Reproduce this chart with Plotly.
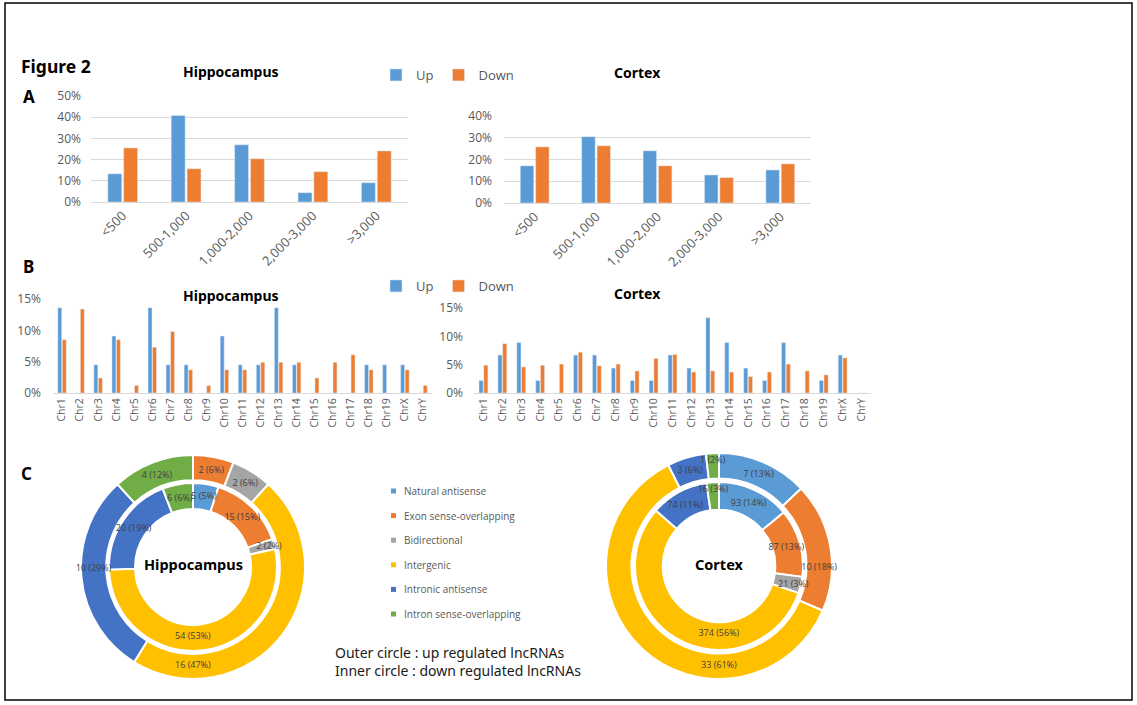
import plotly.graph_objects as go

W, H = 1137, 705

# ---------------- data ----------------
length_bins = ["<500", "500-1,000", "1,000-2,000", "2,000-3,000", ">3,000"]
hip_len_up = [13.3, 40.8, 27.0, 4.4, 9.1]
hip_len_down = [25.5, 15.7, 20.4, 14.3, 24.1]
ctx_len_up = [17.1, 30.5, 24.0, 12.9, 15.2]
ctx_len_down = [25.8, 26.3, 17.1, 11.7, 18.0]

chroms = ["Chr1", "Chr2", "Chr3", "Chr4", "Chr5", "Chr6", "Chr7", "Chr8", "Chr9", "Chr10",
          "Chr11", "Chr12", "Chr13", "Chr14", "Chr15", "Chr16", "Chr17", "Chr18", "Chr19",
          "ChrX", "ChrY"]
hip_chr_up = [13.6, 0, 4.5, 9.1, 0, 13.6, 4.5, 4.5, 0, 9.1, 4.5, 4.5, 13.6, 4.5, 0, 0, 0, 4.5, 4.5, 4.5, 0]
hip_chr_down = [8.5, 13.4, 2.4, 8.5, 1.2, 7.3, 9.8, 3.7, 1.2, 3.7, 3.7, 4.9, 4.9, 4.9, 2.4, 4.9, 6.1, 3.7, 0, 3.7, 1.2]
ctx_chr_up = [2.2, 6.7, 8.9, 2.2, 0, 6.7, 6.7, 4.4, 2.2, 2.2, 6.7, 4.4, 13.3, 8.9, 4.4, 2.2, 8.9, 0, 2.2, 6.7, 0]
ctx_chr_down = [4.9, 8.7, 4.6, 4.9, 5.1, 7.2, 4.8, 5.1, 3.9, 6.1, 6.8, 3.7, 3.9, 3.7, 2.9, 3.7, 5.1, 3.9, 3.2, 6.2, 0]

lnc_types = ["Natural antisense", "Exon sense-overlapping", "Bidirectional",
             "Intergenic", "Intronic antisense", "Intron sense-overlapping"]
hip_up_counts = [0, 2, 2, 16, 10, 4]
hip_up_pct = ["", "6%", "6%", "47%", "29%", "12%"]
hip_down_counts = [5, 15, 2, 54, 20, 6]
hip_down_pct = ["5%", "15%", "2%", "53%", "19%", "6%"]
ctx_up_counts = [7, 10, 0, 33, 3, 1]
ctx_up_pct = ["13%", "18%", "", "61%", "6%", "2%"]
ctx_down_counts = [93, 87, 21, 374, 74, 16]
ctx_down_pct = ["14%", "13%", "3%", "56%", "11%", "3%"]

# ---------------- styles ----------------
UP = "#5B9BD5"
DOWN = "#ED7D31"
type_colors = ["#5B9BD5", "#ED7D31", "#A5A5A5", "#FFC000", "#4472C4", "#70AD47"]
GRAY = "#595959"
GRID = "#D9D9D9"
FONT = "Open Sans"
BOLD = "Noto Sans"


def px_x(a, b):
    return [a / W, b / W]


def px_y(top, bottom):
    return [1 - bottom / H, 1 - top / H]


fig = go.Figure()

# ---- Panel A bars ----
fig.add_trace(go.Bar(x=length_bins, y=hip_len_up, name="Up", marker_color=UP,
                     xaxis="x", yaxis="y", legend="legend"))
fig.add_trace(go.Bar(x=length_bins, y=hip_len_down, name="Down", marker_color=DOWN,
                     xaxis="x", yaxis="y", legend="legend"))
fig.add_trace(go.Bar(x=length_bins, y=ctx_len_up, name="Up", marker_color=UP,
                     xaxis="x2", yaxis="y2", showlegend=False))
fig.add_trace(go.Bar(x=length_bins, y=ctx_len_down, name="Down", marker_color=DOWN,
                     xaxis="x2", yaxis="y2", showlegend=False))

# ---- Panel B bars ----
fig.add_trace(go.Bar(x=chroms, y=hip_chr_up, name="Up", marker_color=UP,
                     xaxis="x3", yaxis="y3", legend="legend2"))
fig.add_trace(go.Bar(x=chroms, y=hip_chr_down, name="Down", marker_color=DOWN,
                     xaxis="x3", yaxis="y3", legend="legend2"))
fig.add_trace(go.Bar(x=chroms, y=ctx_chr_up, name="Up", marker_color=UP,
                     xaxis="x4", yaxis="y4", showlegend=False))
fig.add_trace(go.Bar(x=chroms, y=ctx_chr_down, name="Down", marker_color=DOWN,
                     xaxis="x4", yaxis="y4", showlegend=False))


# ---- Panel C donuts ----
def donut(counts, pcts, cx, cy, r, hole, labels_only=False):
    text = [f"{c} ({p})" if c else "" for c, p in zip(counts, pcts)]
    common = dict(values=counts, labels=lnc_types, sort=False, direction="clockwise",
                  rotation=0, hole=hole,
                  domain=dict(x=px_x(cx - r, cx + r), y=px_y(cy - r, cy + r)),
                  showlegend=False)
    if labels_only:
        return go.Pie(**common,
                      marker=dict(colors=["rgba(0,0,0,0)"] * len(counts), line=dict(width=0)),
                      text=text, textinfo="text", textposition="inside",
                      insidetextorientation="horizontal",
                      textfont=dict(size=9, color="#404040", family=FONT),
                      hoverinfo="skip")
    return go.Pie(**common,
                  marker=dict(colors=type_colors, line=dict(color="white", width=2)),
                  textinfo="none", hoverinfo="label+value+percent")


HCX, HCY = 193, 567
CCX, CCY = 719, 566
rings = [
    (hip_up_counts, hip_up_pct, HCX, HCY, 112, 0.775),
    (hip_down_counts, hip_down_pct, HCX, HCY, 84, 0.69),
    (ctx_up_counts, ctx_up_pct, CCX, CCY, 113, 0.775),
    (ctx_down_counts, ctx_down_pct, CCX, CCY, 84, 0.67),
]
for rg in rings:
    fig.add_trace(donut(*rg))
for rg in rings:
    fig.add_trace(donut(*rg, labels_only=True))

tickfont = dict(family=FONT, size=12, color=GRAY)
xA = dict(type="category", tickangle=-45, tickfont=dict(family=FONT, size=13, color=GRAY),
          showline=True, linecolor=GRID, linewidth=1, showgrid=False, ticks="",
          fixedrange=True, automargin=False)
xB = dict(type="category", tickangle=-90, tickfont=dict(family=FONT, size=10.5, color=GRAY),
          showline=True, linecolor=GRID, linewidth=1, showgrid=False, ticks="",
          fixedrange=True, automargin=False)
yC = dict(zeroline=False, tickfont=tickfont, ticksuffix="%", automargin=False, fixedrange=True)

fig.update_layout(
    width=W, height=H, margin=dict(l=0, r=0, t=0, b=0, pad=0, autoexpand=False),
    paper_bgcolor="white", plot_bgcolor="white",
    barmode="group", bargap=0.5, bargroupgap=0.12,
    uniformtext=dict(minsize=9, mode="show"),
    xaxis=dict(xA, domain=px_x(91, 408), anchor="y",
               tickvals=length_bins, ticktext=[b.replace("<", "&lt;") for b in length_bins]),
    yaxis=dict(yC, domain=px_y(96, 202), anchor="x", range=[0, 50], dtick=10,
               showgrid=True, gridcolor=GRID, ticklabelstandoff=9),
    xaxis2=dict(xA, domain=px_x(504, 811), anchor="y2",
                tickvals=length_bins, ticktext=[b.replace("<", "&lt;") for b in length_bins]),
    yaxis2=dict(yC, domain=px_y(116, 203), anchor="x2", range=[0, 40], dtick=10,
                showgrid=True, gridcolor=GRID, ticklabelstandoff=11),
    xaxis3=dict(xB, domain=px_x(53, 432), anchor="y3"),
    yaxis3=dict(yC, domain=px_y(299, 393), anchor="x3", range=[0, 15], dtick=5,
                showgrid=False, ticklabelstandoff=11),
    xaxis4=dict(xB, domain=px_x(474, 871), anchor="y4"),
    yaxis4=dict(yC, domain=px_y(308, 393), anchor="x4", range=[0, 15], dtick=5,
                showgrid=False, ticklabelstandoff=10),
    legend=dict(orientation="h", x=376 / W, y=1 - 60 / H, xanchor="left", yanchor="top",
                font=dict(family=FONT, size=13, color=GRAY), bgcolor="rgba(0,0,0,0)",
                itemwidth=30),
    legend2=dict(orientation="h", x=376 / W, y=1 - 271 / H, xanchor="left", yanchor="top",
                 font=dict(family=FONT, size=13, color=GRAY), bgcolor="rgba(0,0,0,0)",
                 itemwidth=30),
    showlegend=True,
)

# ---- texts ----
ann = []


def text(x, y, s, size, bold=False, color="black", family=None, xanchor="center"):
    ann.append(dict(x=x / W, y=1 - y / H, xref="paper", yref="paper", text=s,
                    showarrow=False, xanchor=xanchor, yanchor="middle",
                    font=dict(size=size, color=color, family=family or (BOLD if bold else FONT),
                              weight="bold" if bold else "normal")))


text(19, 66, "Figure 2", 17.5, bold=True, xanchor="left")
text(21, 97, "A", 17, bold=True, xanchor="left")
text(21, 266, "B", 17, bold=True, xanchor="left")
text(19, 473, "C", 17, bold=True, xanchor="left")
text(231, 71, "Hippocampus", 14, bold=True)
text(637, 72, "Cortex", 14, bold=True)
text(231, 296, "Hippocampus", 14, bold=True)
text(637, 293, "Cortex", 14, bold=True)
text(HCX, 564, "Hippocampus", 14.5, bold=True)
text(CCX, 564, "Cortex", 14.5, bold=True)
text(333, 661, "Outer circle : up regulated lncRNAs<br>Inner circle : down regulated lncRNAs",
     14, color="#1a1a1a", family="Noto Sans", xanchor="left")
ann[-1]["align"] = "left"

shapes = []
# legend for panel C
for i, (name, col) in enumerate(zip(lnc_types, type_colors)):
    yc = 491 + 24.6 * i
    shapes.append(dict(type="rect", xref="paper", yref="paper",
                       x0=391 / W, x1=396 / W, y0=1 - (yc + 2.5) / H, y1=1 - (yc - 2.5) / H,
                       fillcolor=col, line=dict(width=0)))
    text(402, yc, name, 10, color=GRAY, xanchor="left")

# outer frame
shapes.append(dict(type="rect", xref="paper", yref="paper", x0=5 / W, x1=1132 / W,
                   y0=1 - 700 / H, y1=1 - 3 / H, line=dict(color="black", width=1.5),
                   fillcolor="rgba(0,0,0,0)"))

fig.update_layout(annotations=ann, shapes=shapes)
fig.write_html("out.html", config={"displayModeBar": False},
               post_script="document.body.style.margin='0';document.body.style.overflow='hidden';")
